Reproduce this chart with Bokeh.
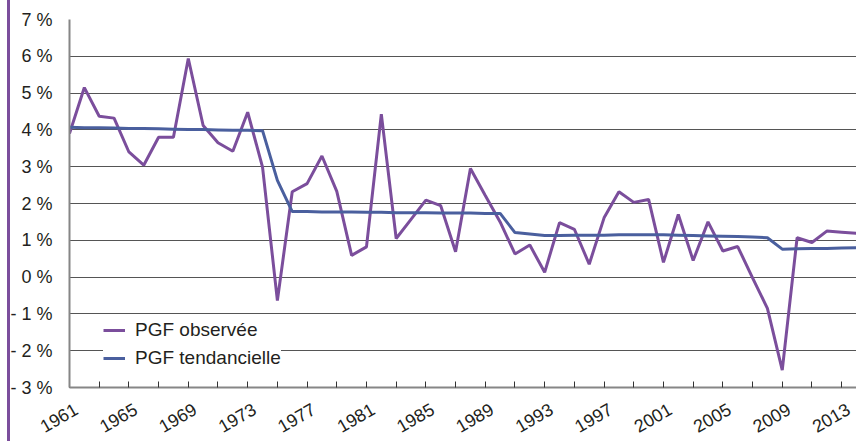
from bokeh.plotting import figure
from bokeh.models import FixedTicker, Range1d, LinearAxis
from bokeh.embed import file_html
from bokeh.resources import INLINE
import math

# ---- data ----
years = list(range(1961, 2015))
pgf_observee = [3.90, 5.15, 4.37, 4.32, 3.40, 3.04, 3.80, 3.80, 5.94, 4.12,
                3.65, 3.42, 4.48, 2.99, -0.64, 2.32, 2.54, 3.29, 2.33, 0.59,
                0.82, 4.43, 1.05, 1.57, 2.09, 1.94, 0.69, 2.95, 2.22, 1.50,
                0.63, 0.87, 0.13, 1.48, 1.30, 0.35, 1.61, 2.32, 2.03, 2.11,
                0.40, 1.70, 0.45, 1.50, 0.71, 0.83, -0.02, -0.85, -2.53, 1.07,
                0.94, 1.25, 1.22, 1.19]
pgf_tendancielle = [4.07, 4.06, 4.06, 4.05, 4.04, 4.04, 4.03, 4.02, 4.01, 4.01,
                    4.00, 3.99, 3.99, 3.98, 2.63, 1.78, 1.78, 1.77, 1.77, 1.77,
                    1.76, 1.76, 1.75, 1.75, 1.75, 1.74, 1.74, 1.74, 1.73, 1.73,
                    1.21, 1.17, 1.13, 1.13, 1.14, 1.14, 1.14, 1.15, 1.15, 1.15,
                    1.15, 1.14, 1.13, 1.12, 1.11, 1.10, 1.09, 1.07, 0.76, 0.77,
                    0.78, 0.78, 0.79, 0.80]
series_names = ["PGF observée", "PGF tendancielle"]
y_ticks = [-3, -2, -1, 0, 1, 2, 3, 4, 5, 6, 7]
y_tick_labels = ["- 3 %", "- 2 %", "- 1 %", "0 %", "1 %", "2 %", "3 %",
                 "4 %", "5 %", "6 %", "7 %"]
x_label_years = [1961, 1965, 1969, 1973, 1977, 1981, 1985, 1989, 1993,
                 1997, 2001, 2005, 2009, 2013]
x_minor_years = [1963, 1967, 1971, 1975, 1979, 1983, 1987, 1991, 1995,
                 1999, 2003, 2007, 2011]

PURPLE = "#7B4E9C"
BLUE = "#4A5F9E"
TEXT = "#231F20"
AXIS = "#868686"
FONT = "Liberation Sans"
LABEL_SHIFT = 0.45  # years: slides the rotated year labels to the right of their ticks

p = figure(width=856, height=441, output_backend="svg", toolbar_location=None,
           x_range=Range1d(1961, 2014), y_range=Range1d(-3, 7),
           min_border_left=69, min_border_right=0, min_border_top=19,
           min_border_bottom=53)
p.outline_line_color = None
p.background_fill_color = "white"
p.border_fill_color = None
p.styles = {"background": f"linear-gradient(to right, white 7px, {PURPLE} 7px, "
                          f"{PURPLE} 10px, white 10px)"}

# grid
p.xgrid.grid_line_color = None
p.ygrid.ticker = FixedTicker(ticks=y_ticks)
p.ygrid.grid_line_color = "#555555"
p.ygrid.grid_line_width = 1

# y axis
p.yaxis.ticker = FixedTicker(ticks=y_ticks)
p.yaxis.major_label_overrides = {t: l for t, l in zip(y_ticks, y_tick_labels)}
p.yaxis.major_tick_in = 0
p.yaxis.major_tick_out = 0
p.yaxis.minor_tick_in = 0
p.yaxis.minor_tick_out = 0
p.yaxis.axis_line_color = AXIS
p.yaxis.axis_line_width = 2
p.yaxis.major_label_standoff = 17
p.yaxis.major_label_text_font = FONT
p.yaxis.major_label_text_font_size = "18px"
p.yaxis.major_label_text_color = TEXT

# main x axis: line + inward ticks only
p.xaxis.ticker = FixedTicker(ticks=x_label_years, minor_ticks=x_minor_years)
p.xaxis.major_label_overrides = {v: "" for v in x_label_years}
p.xaxis.major_label_text_font_size = "0px"
p.xaxis.major_label_standoff = 0
p.xaxis.major_tick_in = 6
p.xaxis.major_tick_out = 0
p.xaxis.minor_tick_in = 6
p.xaxis.minor_tick_out = 0
p.xaxis.major_tick_line_color = "#333333"
p.xaxis.minor_tick_line_color = "#333333"
p.xaxis.axis_line_color = AXIS
p.xaxis.axis_line_width = 2

# label axis: same years, range slid so rotated labels sit like the original
p.extra_x_ranges = {"labels": Range1d(1961 - LABEL_SHIFT, 2014 - LABEL_SHIFT)}
lab_axis = LinearAxis(x_range_name="labels",
                      ticker=FixedTicker(ticks=x_label_years),
                      axis_line_color=None, major_tick_line_color=None,
                      minor_tick_line_color=None,
                      major_label_orientation=math.pi / 6,
                      major_label_standoff=14,
                      major_label_text_font=FONT,
                      major_label_text_font_size="18px",
                      major_label_text_color=TEXT)
p.add_layout(lab_axis, "below")

p.line(years, pgf_observee, line_color=PURPLE, line_width=3,
       legend_label=series_names[0])
p.line(years, pgf_tendancielle, line_color=BLUE, line_width=3,
       legend_label=series_names[1])

lg = p.legend[0]
lg.location = (34, 18)
lg.margin = 0
lg.padding = 11
lg.spacing = 6
lg.glyph_width = 22
lg.glyph_height = 20
lg.label_height = 20
lg.label_standoff = 10
lg.border_line_color = None
lg.background_fill_color = "white"
lg.background_fill_alpha = 1
lg.label_text_font = FONT
lg.label_text_font_size = "19px"
lg.label_text_color = TEXT

open("out.html", "w").write(file_html(p, INLINE))
